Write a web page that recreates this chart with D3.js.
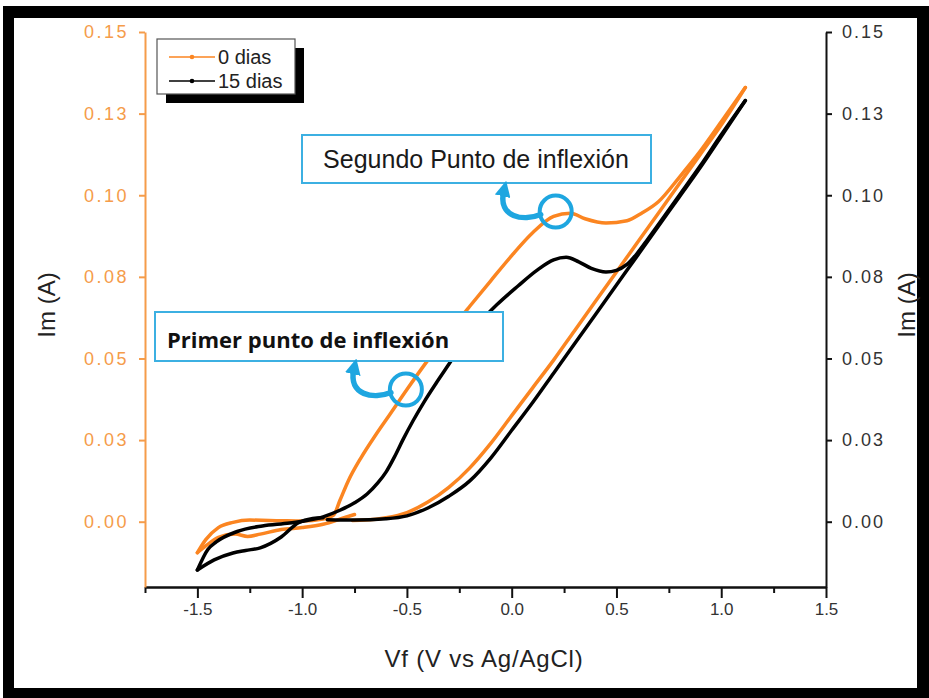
<!DOCTYPE html>
<html>
<head>
<meta charset="utf-8">
<script src="https://cdn.jsdelivr.net/npm/d3@7"></script>
<style>
  body { margin: 0; background: #fff; }
  svg { display: block; }
  text { font-family: "Liberation Sans", Arial, sans-serif; }
</style>
</head>
<body>
<svg width="929" height="698"></svg>
<script>
// cyclic voltammetry, 0 dias (orange) and 15 dias (black), [V, A]
const dias0 = [
  [-0.75, 0.0022], [-0.8, 0.0012], [-0.9, -0.0008], [-1.0, -0.0018], [-1.1, -0.0024], [-1.2, -0.0038],
  [-1.26, -0.0045], [-1.32, -0.0038], [-1.4, -0.0048], [-1.46, -0.0074], [-1.5, -0.0095],
  [-1.46, -0.0055], [-1.4, -0.0018], [-1.33, -0.0002], [-1.25, 0.0005], [-1.1, 0.0003], [-1.0, 0.0002],
  [-0.9, 0.0008], [-0.85, 0.002], [-0.82, 0.0065], [-0.78, 0.0125], [-0.72, 0.0195], [-0.65, 0.0265],
  [-0.58, 0.033], [-0.5, 0.0405], [-0.4, 0.0495], [-0.3, 0.058], [-0.2, 0.066], [-0.1, 0.0738],
  [0.0, 0.0815], [0.1, 0.0885], [0.2, 0.0935], [0.28, 0.0945], [0.35, 0.0928], [0.45, 0.0915],
  [0.55, 0.0922], [0.62, 0.0945], [0.7, 0.098], [0.8, 0.1055], [0.9, 0.1135], [1.0, 0.1225], [1.115, 0.133],
  [1.0, 0.1215], [0.9, 0.1125], [0.8, 0.1035], [0.7, 0.0945], [0.6, 0.0855], [0.5, 0.0765], [0.4, 0.0675],
  [0.3, 0.0585], [0.2, 0.0495], [0.1, 0.041], [0.0, 0.0325], [-0.1, 0.024], [-0.2, 0.0165], [-0.3, 0.0105],
  [-0.4, 0.006], [-0.5, 0.0028], [-0.6, 0.0012], [-0.7, 0.0005], [-0.76, 0.0004]
];
const dias15 = [
  [-0.9, 0.0012], [-0.95, 0.001], [-1.02, -0.0004], [-1.1, -0.0047], [-1.2, -0.008], [-1.27, -0.0088],
  [-1.33, -0.0096], [-1.42, -0.0117], [-1.5, -0.0148],
  [-1.45, -0.0085], [-1.41, -0.0062], [-1.31, -0.003], [-1.19, -0.0013], [-1.06, -0.0004], [-0.9, 0.0015],
  [-0.82, 0.0035], [-0.75, 0.0058], [-0.69, 0.0085], [-0.64, 0.0118], [-0.6, 0.0152], [-0.56, 0.0198],
  [-0.52, 0.025], [-0.47, 0.031], [-0.42, 0.0365], [-0.36, 0.0425], [-0.3, 0.0482], [-0.23, 0.0549],
  [-0.15, 0.0612], [-0.07, 0.0665], [0.03, 0.0722], [0.12, 0.077], [0.2, 0.0802], [0.26, 0.081],
  [0.32, 0.0796], [0.38, 0.0776], [0.45, 0.0765], [0.5, 0.077], [0.55, 0.0788], [0.6, 0.0823],
  [0.65, 0.0866], [0.7, 0.091], [0.8, 0.1], [0.9, 0.109], [1.0, 0.1185], [1.115, 0.129],
  [1.0, 0.118], [0.9, 0.1085], [0.8, 0.0995], [0.7, 0.0905], [0.6, 0.0815], [0.5, 0.0725], [0.4, 0.0635],
  [0.3, 0.0545], [0.2, 0.0455], [0.1, 0.0365], [0.0, 0.028], [-0.1, 0.0195], [-0.2, 0.0125],
  [-0.3, 0.0078], [-0.4, 0.0042], [-0.5, 0.0018], [-0.6, 0.0009], [-0.75, 0.0005], [-0.88, 0.0006]
];
const seriesNames = ["0 dias", "15 dias"];
const seriesColors = ["#fb8521", "#000000"];

const xTicks = [-1.5, -1.0, -0.5, 0.0, 0.5, 1.0, 1.5];
const xTickLabels = ["-1.5", "-1.0", "-0.5", "0.0", "0.5", "1.0", "1.5"];
const xMinorTicks = [-1.75, -1.25, -0.75, -0.25, 0.25, 0.75, 1.25];
const yTicks = [0, 0.025, 0.05, 0.075, 0.1, 0.125, 0.15];
const yTickLabels = ["0.00", "0.03", "0.05", "0.08", "0.10", "0.13", "0.15"];

// inflection points marked with a circle
const notePoints = [[0.21, 0.095], [-0.505, 0.0405]];
const noteTexts = ["Segundo Punto de inflexión", "Primer punto de inflexión"];

const svg = d3.select("svg");
const orangeAxis = "#f59c4a";
const blue = "#1ea6e0";

// black frame round the picture
svg.append("rect").attr("x", 3).attr("y", 6).attr("width", 926).attr("height", 692).attr("fill", "#000");
svg.append("rect").attr("x", 14).attr("y", 18).attr("width", 903).attr("height", 670).attr("fill", "#fff");

const x = d3.scaleLinear().domain([-1.75, 1.5]).range([145, 826]);
const y = d3.scaleLinear().domain([-0.02, 0.15]).range([587, 32]);

// x axis, minor then major ticks
const gxMinor = svg.append("g")
    .attr("transform", "translate(0," + y(-0.02) + ")")
    .call(d3.axisBottom(x).tickValues(xMinorTicks).tickSize(6).tickSizeOuter(0).tickFormat(""));
const gx = svg.append("g")
    .attr("transform", "translate(0," + y(-0.02) + ")")
    .call(d3.axisBottom(x).tickValues(xTicks).tickSize(11).tickSizeOuter(0).tickPadding(5)
      .tickFormat(d => xTickLabels[xTicks.indexOf(d)]));
[gxMinor, gx].forEach(g => {
  g.selectAll("path, line").attr("stroke", "#111").attr("stroke-width", 2);
});
gx.selectAll("text").attr("fill", "#333").style("font-size", "17px");

// left axis (orange)
const gyl = svg.append("g")
    .attr("transform", "translate(" + x(-1.75) + ",0)")
    .call(d3.axisLeft(y).tickValues(yTicks).tickSize(6).tickSizeOuter(0).tickPadding(10)
      .tickFormat(d => yTickLabels[yTicks.indexOf(d)]));
gyl.selectAll("path, line").attr("stroke", orangeAxis).attr("stroke-width", 2);
gyl.selectAll("text").attr("fill", orangeAxis).style("font-size", "18px").style("letter-spacing", "2.5px");

// right axis (black)
const gyr = svg.append("g")
    .attr("transform", "translate(" + x(1.5) + ",0)")
    .call(d3.axisRight(y).tickValues(yTicks).tickSize(6).tickSizeOuter(0).tickPadding(10)
      .tickFormat(d => yTickLabels[yTicks.indexOf(d)]));
gyr.selectAll("path, line").attr("stroke", "#111").attr("stroke-width", 2);
gyr.selectAll("text").attr("fill", "#333").style("font-size", "18px").style("letter-spacing", "2px");

// axis titles
svg.append("text")
    .attr("x", 484).attr("y", 667)
    .attr("text-anchor", "middle")
    .style("font-size", "24px").style("letter-spacing", "0.8px")
    .attr("fill", "#222")
    .text("Vf (V vs Ag/AgCl)");
[[47, 305], [907, 305]].forEach(p => {
  svg.append("text")
      .attr("transform", "translate(" + p[0] + "," + p[1] + ") rotate(-90)")
      .attr("dy", "0.35em")
      .attr("text-anchor", "middle")
      .style("font-size", "24px")
      .attr("fill", "#222")
      .text("Im (A)");
});

// split a scan into sweeps where the potential keeps one direction
function sweeps(pts) {
  const out = [];
  let cur = [pts[0]], dir = 0;
  for (let i = 1; i < pts.length; i++) {
    const d = Math.sign(pts[i][0] - pts[i - 1][0]);
    if (dir !== 0 && d !== dir) {
      out.push(cur);
      cur = [pts[i - 1]];
    }
    dir = d;
    cur.push(pts[i]);
  }
  out.push(cur);
  return out;
}

const line = d3.line()
    .x(d => x(d[0]))
    .y(d => y(d[1]))
    .curve(d3.curveMonotoneX);

[dias0, dias15].forEach((s, i) => {
  const g = svg.append("g");
  g.selectAll("path")
    .data(sweeps(s))
    .enter().append("path")
      .attr("d", line)
      .attr("fill", "none")
      .attr("stroke", seriesColors[i])
      .attr("stroke-width", 3.5)
      .attr("stroke-linejoin", "round")
      .attr("stroke-linecap", "round");
});

// legend with drop shadow
const legend = svg.append("g").attr("class", "legend");
legend.append("rect").attr("x", 166).attr("y", 48).attr("width", 138).attr("height", 55).attr("fill", "#000");
legend.append("rect").attr("x", 157).attr("y", 39).attr("width", 138).attr("height", 55)
    .attr("fill", "#fff").attr("stroke", "#555").attr("stroke-width", 1.2);
seriesNames.forEach((name, i) => {
  const ly = 57 + i * 24;
  legend.append("line").attr("x1", 169).attr("x2", 215).attr("y1", ly).attr("y2", ly)
      .attr("stroke", seriesColors[i]).attr("stroke-width", 1.5);
  legend.append("circle").attr("cx", 192).attr("cy", ly).attr("r", 2.3).attr("fill", seriesColors[i]);
  legend.append("text").attr("x", 218).attr("y", ly + 7)
      .style("font-size", "20px").attr("fill", "#222").text(name);
});

// annotations
const defs = svg.append("defs");
defs.append("marker")
    .attr("id", "head")
    .attr("viewBox", "0 0 10 10")
    .attr("refX", 3).attr("refY", 5)
    .attr("markerWidth", 2.9).attr("markerHeight", 2.9)
    .attr("orient", "auto")
    .append("path").attr("d", "M0,0 L10,5 L0,10 z").attr("fill", blue);

// box 1: Segundo Punto de inflexión
svg.append("rect").attr("x", 302).attr("y", 135).attr("width", 349).attr("height", 48)
    .attr("fill", "#fff").attr("stroke", "#3cb0e2").attr("stroke-width", 2);
svg.append("text").attr("x", 476).attr("y", 168).attr("text-anchor", "middle")
    .style("font-size", "25px").attr("fill", "#1a1a1a").text(noteTexts[0]);

// box 2: Primer punto de inflexión
svg.append("rect").attr("x", 155).attr("y", 312).attr("width", 348).attr("height", 49)
    .attr("fill", "#fff").attr("stroke", "#3cb0e2").attr("stroke-width", 2);
svg.append("text").attr("x", 167).attr("y", 348)
    .style("font-family", "'Open Sans', sans-serif").style("font-weight", 700)
    .style("font-size", "22px").attr("fill", "#111").text(noteTexts[1]);

notePoints.forEach(p => {
  const cx = x(p[0]), cy = y(p[1]);
  svg.append("circle").attr("cx", cx).attr("cy", cy).attr("r", 16)
      .attr("fill", "none").attr("stroke", blue).attr("stroke-width", 4);
  svg.append("path")
      .attr("d", "M" + (cx - 15) + "," + (cy + 3) +
                 " C" + (cx - 32) + "," + (cy + 10) + " " + (cx - 58) + "," + (cy + 6) + " " + (cx - 52) + "," + (cy - 20))
      .attr("fill", "none").attr("stroke", blue).attr("stroke-width", 5.5)
      .attr("stroke-linecap", "round")
      .attr("marker-end", "url(#head)");
});
</script>
</body>
</html>
